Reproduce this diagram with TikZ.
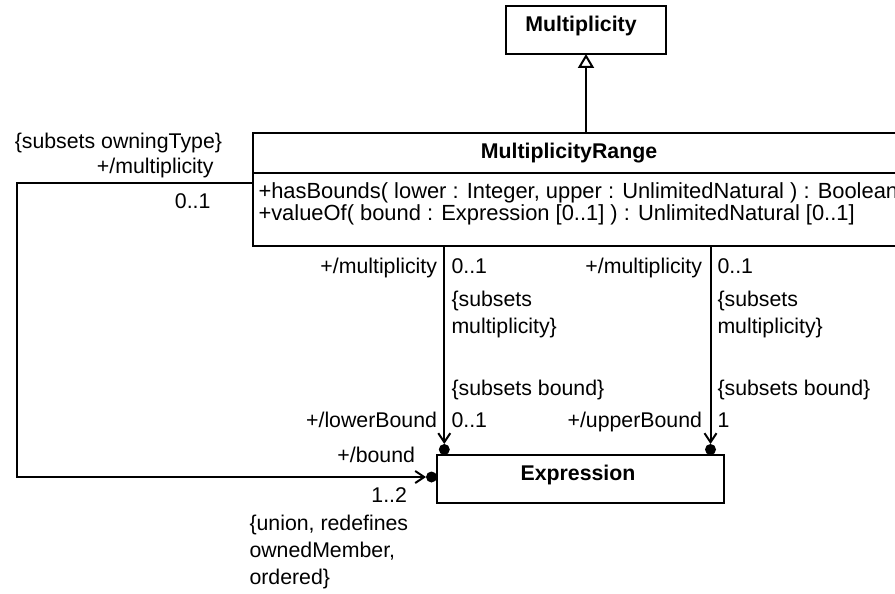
\documentclass[tikz,border=0pt]{standalone}
\usepackage{fontspec}
\setmainfont{Liberation Sans}
\usetikzlibrary{arrows.meta}
\begin{document}
\begin{tikzpicture}[x=1pt,y=-1pt,
  every node/.style={font=\fontsize{21.3}{26.7}\selectfont, inner sep=0pt, outer sep=0pt},
  bold/.style={font=\fontsize{21.3}{26.7}\selectfont\bfseries},
  optext/.style={font=\fontsize{21.9}{26.7}\selectfont, anchor=base west},
  cls/.style={draw, line width=2pt, anchor=north west, rectangle},
  dotn/.style={circle, fill=black, minimum size=11pt, inner sep=0pt},
  assoc/.style={line width=2pt, -{Straight Barb[length=9pt,width=12pt]}},
  gen/.style={line width=2pt, -{Triangle[open,fill=white,length=14pt,width=16pt]}},
  line width=2pt]
\useasboundingbox[fill=white] (0,0) rectangle (895,594);

% classes
\node[cls, minimum width=160pt, minimum height=48pt] (mult) at (506,6) {};
\node[anchor=base, bold] (multT) at (581,31.7) {Multiplicity};

\node[cls, minimum width=700pt, minimum height=113pt] (mr) at (252.5,133) {};
\draw ([yshift=-39.5pt]mr.north west) -- ([yshift=-39.5pt]mr.north east);
\node[anchor=base, bold] (mrT) at (569,158.3) {MultiplicityRange};
\node[optext] (op1) at (258.5,198.3) {+hasBounds( lower : Integer, upper : UnlimitedNatural ) : Boolean};
\node[optext] (op2) at (258.5,220.7) {+valueOf( bound : Expression [0..1] ) : UnlimitedNatural [0..1]};

\node[cls, minimum width=287pt, minimum height=48pt] (expr) at (437,455) {};
\node[anchor=base, bold] (exprT) at (578,480) {Expression};

% ownership dots
\node[dotn] (dL) at (444.3,449.5) {};
\node[dotn] (dR) at (710.5,449.5) {};
\node[dotn] (dB) at (431.5,477) {};

% connectors
\draw[gen] (mr.north -| mult.south) -- (mult.south);
\draw[assoc] (mr.south -| dL) -- (dL.north);
\draw[assoc] (mr.south -| dR) -- (dR.north);
\coordinate (bend) at (17,0);
\coordinate (lc) at ([yshift=7pt]mr.west);
\draw[assoc] (lc) -- (lc -| bend) |- (dB.west);

% left association labels
\node[anchor=base east] (l1) at (222,148.3) {\{subsets owningType\}};
\node[anchor=base east] (l2) at (213.5,173) {+/multiplicity};
\node[anchor=base east] (l3) at (210.5,208) {0..1};
\node[anchor=base east] (l4) at (415,462) {+/bound};
\node[anchor=base east] (l5) at (407,502.7) {1..2};
\node[anchor=base west] (l6) at (249.5,530) {\{union, redefines};
\node[anchor=base west] (l7) at (249.5,557) {ownedMember,};
\node[anchor=base west] (l8) at (249.5,584) {ordered\}};

% lowerBound association labels
\node[anchor=base east] (a1) at (437,273) {+/multiplicity};
\node[anchor=base west] (a2) at (451.5,273) {0..1};
\node[anchor=base west] (a3) at (451.5,306.5) {\{subsets};
\node[anchor=base west] (a4) at (451.5,333) {multiplicity\}};
\node[anchor=base west] (a5) at (451.5,395) {\{subsets bound\}};
\node[anchor=base east] (a6) at (437,427) {+/lowerBound};
\node[anchor=base west] (a7) at (451.5,427) {0..1};

% upperBound association labels
\node[anchor=base east] (b1) at (702,273) {+/multiplicity};
\node[anchor=base west] (b2) at (717.5,273) {0..1};
\node[anchor=base west] (b3) at (717.5,306.5) {\{subsets};
\node[anchor=base west] (b4) at (717.5,333) {multiplicity\}};
\node[anchor=base west] (b5) at (717.5,395) {\{subsets bound\}};
\node[anchor=base east] (b6) at (702,427) {+/upperBound};
\node[anchor=base west] (b7) at (717.5,427) {1};
\end{tikzpicture}
\end{document}
